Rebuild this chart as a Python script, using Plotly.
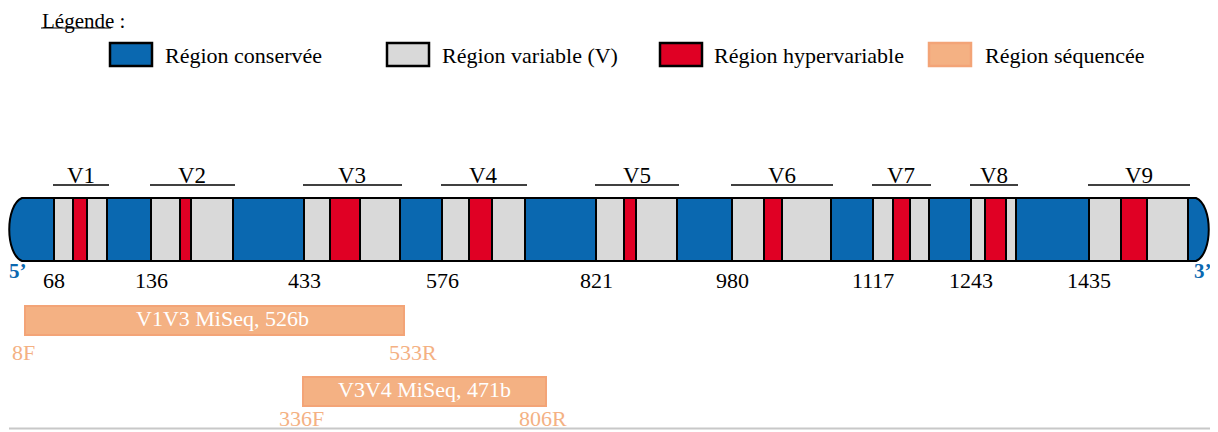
import plotly.graph_objects as go

# ---------------- data ----------------
# schematic segment edges of the 16S rRNA gene (drawing units)
seg_edges = [9, 54, 73, 87, 107, 151, 180, 191, 233, 304, 330, 360, 400,
             442, 469, 492, 525, 596, 624, 636, 677, 732, 764, 782, 831,
             873, 893, 910, 929, 971, 985, 1006, 1016, 1089, 1121, 1147, 1188, 1208]
# C = conserved, V = variable, H = hypervariable
seg_kinds = ["C"] + ["V", "H", "V", "C"] * 9

region_names = ["V1", "V2", "V3", "V4", "V5", "V6", "V7", "V8", "V9"]
position_labels = ["68", "136", "433", "576", "821", "980", "1117", "1243", "1435"]

seq_names = ["V1V3 MiSeq, 526b", "V3V4 MiSeq, 471b"]
seq_start = [25, 303]
seq_end = [404, 546]
seq_fwd = ["8F", "336F"]
seq_rev = ["533R", "806R"]

legend_labels = ["Région conservée", "Région variable (V)", "Région hypervariable", "Région séquencée"]

# ---------------- styles ----------------
BLUE = "#0A68B0"
GREY = "#D9D9D9"
RED = "#E00024"
ORANGE = "#F4B183"
ORANGE_LINE = "#F3A477"
FONT = "Liberation Serif"
kind_color = {"C": BLUE, "V": GREY, "H": RED}
kind_name = {"C": legend_labels[0], "V": legend_labels[1], "H": legend_labels[2]}

GENE_Y = 229.5
GENE_H = 63
SEQ_Y = [320.5, 391.5]
SEQ_H = 29

# page body has an 8px margin: the figure is offset so axis units equal page pixels
OFF = 8

fig = go.Figure()

# gene body segments (excluding the rounded end caps)
for kind in ["C", "V", "H"]:
    bases, lens = [], []
    for i, k in enumerate(seg_kinds):
        if k != kind or i == 0 or i == len(seg_kinds) - 1:
            continue
        bases.append(seg_edges[i])
        lens.append(seg_edges[i + 1] - seg_edges[i])
    fig.add_trace(go.Bar(
        orientation="h", y=[GENE_Y] * len(bases), x=lens, base=bases,
        width=GENE_H, name=kind_name[kind], showlegend=False,
        marker=dict(color=kind_color[kind], line=dict(color="black", width=2)),
        hoverinfo="skip"))

# rounded caps (5' and 3' conserved ends)
top, bot = GENE_Y - GENE_H / 2, GENE_Y + GENE_H / 2
l0, l1 = seg_edges[0], seg_edges[1]
r0, r1 = seg_edges[-2], seg_edges[-1]
left_path = (f"M {l1},{top} L {l0+13},{top} C {l0-4},{top+7} {l0-4},{bot-7} {l0+13},{bot} "
             f"L {l1},{bot} Z")
right_path = (f"M {r0},{top} L {r1-12},{top} C {r1+5},{top+7} {r1+5},{bot-7} {r1-12},{bot} "
              f"L {r0},{bot} Z")
for p in (left_path, right_path):
    fig.add_shape(type="path", path=p, xref="x", yref="y", fillcolor=BLUE,
                  line=dict(color="black", width=2), layer="below")

# variable region labels with overlines, and position labels
var_starts = [seg_edges[i] for i, k in enumerate(seg_kinds) if k == "V" and seg_kinds[i - 1] == "C"]
var_ends = [seg_edges[i + 1] for i, k in enumerate(seg_kinds) if k == "V" and seg_kinds[i + 1] == "C"]
for name, s, e, pos in zip(region_names, var_starts, var_ends, position_labels):
    fig.add_shape(type="line", x0=s - 1, x1=e + 2, y0=185, y1=185, xref="x", yref="y",
                  line=dict(color="black", width=1.5))
    fig.add_annotation(x=(s + e) / 2, y=175, text=name, showarrow=False,
                       font=dict(family=FONT, size=23, color="black"))
    fig.add_annotation(x=s, y=280, text=pos, showarrow=False,
                       font=dict(family=FONT, size=22, color="black"))

fig.add_annotation(x=18, y=271, text="<b>5’</b>", showarrow=False,
                   font=dict(family=FONT, size=21, color=BLUE))
fig.add_annotation(x=1203, y=271, text="<b>3’</b>", showarrow=False,
                   font=dict(family=FONT, size=21, color=BLUE))

# sequenced regions
for i, (nm, s, e) in enumerate(zip(seq_names, seq_start, seq_end)):
    fig.add_trace(go.Bar(
        orientation="h", y=[SEQ_Y[i]], x=[e - s], base=[s], width=SEQ_H,
        name=nm, showlegend=False, hoverinfo="skip",
        marker=dict(color=ORANGE, line=dict(color=ORANGE_LINE, width=2))))
    fig.add_annotation(x=(s + e) / 2, y=SEQ_Y[i] - 2, xshift=8 if i == 0 else 0, text=nm,
                       showarrow=False, font=dict(family=FONT, size=22, color="white"))

fig.add_annotation(x=seq_start[0] - 2, y=352, text=seq_fwd[0], showarrow=False,
                   font=dict(family=FONT, size=22, color=ORANGE))
fig.add_annotation(x=seq_end[0] + 9, y=352, text=seq_rev[0], showarrow=False,
                   font=dict(family=FONT, size=22, color=ORANGE))
fig.add_annotation(x=seq_start[1] - 2, y=418, text=seq_fwd[1], showarrow=False,
                   font=dict(family=FONT, size=22, color=ORANGE))
fig.add_annotation(x=seq_end[1] - 3, y=418, text=seq_rev[1], showarrow=False,
                   font=dict(family=FONT, size=22, color=ORANGE))

# bottom rule
fig.add_shape(type="line", x0=9, x1=1213, y0=428.5, y1=428.5, xref="x", yref="y",
              line=dict(color="#C8C8C8", width=2))

# legend title with underline under "Légende"
fig.add_annotation(x=40, y=20.5, xanchor="left", text="Légende :", showarrow=False,
                   font=dict(family=FONT, size=21, color="black"))
fig.add_shape(type="line", x0=41, x1=111, y0=28, y1=28, xref="x", yref="y",
              line=dict(color="black", width=1.2))
leg_box_x = [110, 387, 660, 929]
leg_text_x = [163, 440, 712, 983]
leg_fill = [BLUE, GREY, RED, ORANGE]
leg_line = ["black", "black", "black", ORANGE_LINE]
for bx, tx, fc, lc, lab in zip(leg_box_x, leg_text_x, leg_fill, leg_line, legend_labels):
    fig.add_shape(type="rect", x0=bx, x1=bx + 42, y0=43, y1=66, xref="x", yref="y",
                  fillcolor=fc, line=dict(color=lc, width=2.5))
    fig.add_annotation(x=tx, y=55, xanchor="left", text=lab, showarrow=False,
                       font=dict(family=FONT, size=22, color="black"))

fig.update_layout(
    width=1218 - OFF, height=432 - OFF, margin=dict(l=0, r=0, t=0, b=0),
    paper_bgcolor="white", plot_bgcolor="white", barmode="overlay",
    xaxis=dict(range=[OFF, 1218], visible=False, fixedrange=True),
    yaxis=dict(range=[432, OFF], visible=False, fixedrange=True),
    showlegend=False,
)

fig.write_html("out.html")
